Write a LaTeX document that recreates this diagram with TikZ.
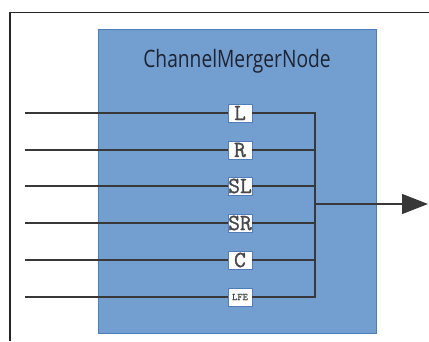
\documentclass[tikz,border=0pt]{standalone}
\usepackage{fontspec}
\setsansfont{Open Sans}[FakeStretch=0.8]
\setmonofont{Latin Modern Mono}[FakeBold=1.2]
\usetikzlibrary{arrows.meta}

\definecolor{nodeblue}{HTML}{729FCF}
\definecolor{nodeedge}{HTML}{4F7DBA}
\definecolor{titleink}{HTML}{1E2433}

\begin{document}
\begin{tikzpicture}[x=1pt,y=-1pt,
  chan/.style={draw=nodeedge, line width=0.6pt, fill=white,
    minimum width=24pt, minimum height=18pt, inner sep=0pt,
    text=black!72, font=\ttfamily\fontsize{23}{23}\selectfont},
  wire/.style={line width=1.3pt, draw=black!78}]

  % Fix the page size
  \useasboundingbox (0,0) rectangle (429,341);

  % Outer frame, cut off at the right and bottom
  \draw[line width=1.6pt, black!85] (10,341) -- (10,12.5) -- (429,12.5);

  % The merger node itself
  \node[draw=nodeedge, line width=0.8pt, fill=nodeblue, minimum width=278pt,
    minimum height=304pt, inner sep=0pt] (merger) at (237,181) {};
  \node[text=titleink, font=\sffamily\fontsize{24}{24}\selectfont] (title)
    at (237,61) {ChannelMergerNode};

  % Define the rows of the input channels
  \def\xin{25}
  \def\xbus{315}

  % Channel label boxes
  \node[chan] (L) at (240,113) {L};
  \node[chan] (R) at (240,150) {R};
  \node[chan] (SL) at (240,186) {SL};
  \node[chan] (SR) at (240,223) {SR};
  \node[chan] (C) at (240,260) {C};
  \node[chan, font=\ttfamily\fontsize{10}{10}\selectfont] (LFE) at (240,297) {LFE};

  % Free ends of the inputs on the left
  \coordinate (inL) at (\xin,113);
  \coordinate (inR) at (\xin,150);
  \coordinate (inSL) at (\xin,186);
  \coordinate (inSR) at (\xin,223);
  \coordinate (inC) at (\xin,260);
  \coordinate (inLFE) at (\xin,297);

  % Bus on the right and the output
  \coordinate (busTop) at (\xbus,113);
  \coordinate (busBot) at (\xbus,297);
  \coordinate (busOut) at (\xbus,204);
  \coordinate (out) at (428,204);

  % Draw the input wires into the boxes
  \draw[wire] (inL) -- (L.west);
  \draw[wire] (inR) -- (R.west);
  \draw[wire] (inSL) -- (SL.west);
  \draw[wire] (inSR) -- (SR.west);
  \draw[wire] (inC) -- (C.west);
  \draw[wire] (inLFE) -- (LFE.west);

  % Draw the wires from the boxes to the bus
  \draw[wire] (L.east) -- (L.east -| busTop);
  \draw[wire] (R.east) -- (R.east -| busTop);
  \draw[wire] (SL.east) -- (SL.east -| busTop);
  \draw[wire] (SR.east) -- (SR.east -| busTop);
  \draw[wire] (C.east) -- (C.east -| busTop);
  \draw[wire] (LFE.east) -- (LFE.east -| busTop);
  \draw[wire, line cap=rect] (busTop) -- (busBot);

  % The merged output
  \draw[wire, -{Triangle[length=26pt,width=20pt]}] (busOut) -- (out);

\end{tikzpicture}
\end{document}
